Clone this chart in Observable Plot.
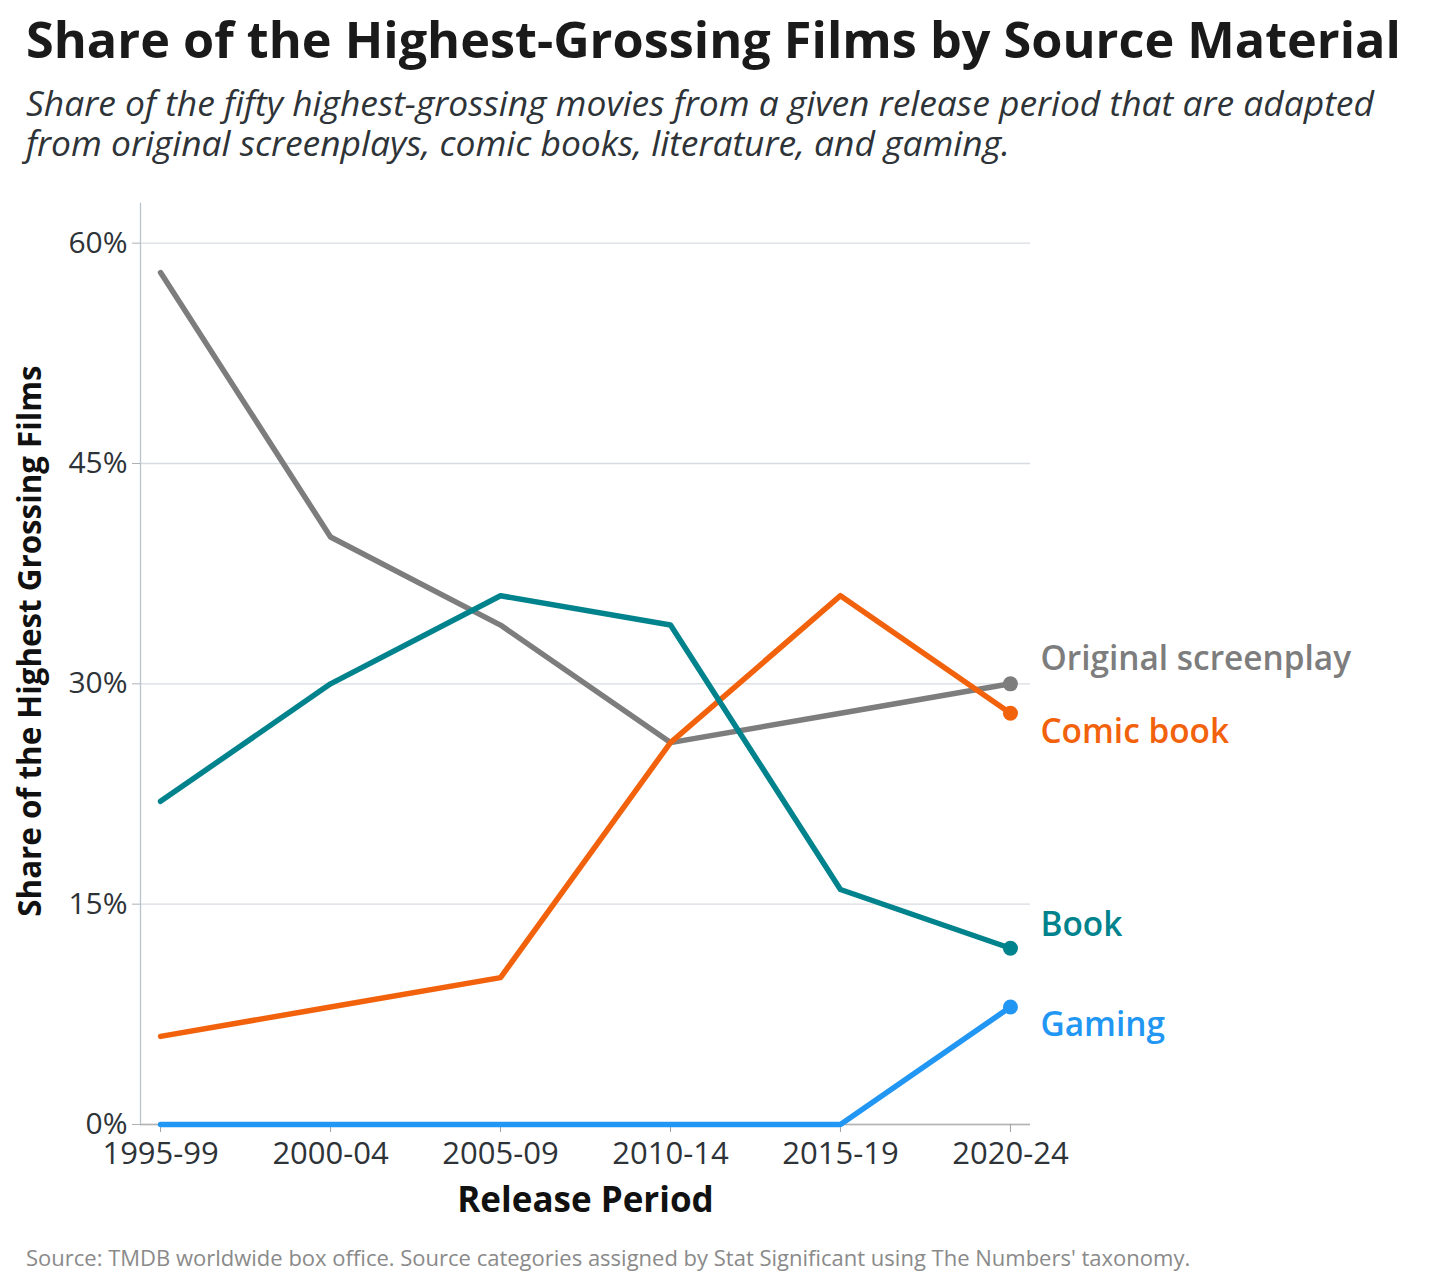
<!DOCTYPE html>
<html>
<head>
<meta charset="utf-8">
<script src="https://cdn.jsdelivr.net/npm/d3@7"></script>
<script src="https://cdn.jsdelivr.net/npm/@observablehq/plot@0.6"></script>
<style>
  body { margin: 0; background: #fff; font-family: "Open Sans", sans-serif; }
  #wrap { position: relative; width: 1456px; height: 1284px; overflow: hidden; }
  .title { position: absolute; left: 26px; top: 14px; font-size: 50.4px; font-weight: 700; color: #1a1a1a; line-height: 1; white-space: nowrap; }
  .subtitle { position: absolute; left: 26px; top: 82px; font-size: 35.4px; font-style: italic; color: #2e3338; line-height: 40px; width: 1430px; white-space: nowrap; }
  .caption { position: absolute; left: 26px; top: 1244px; font-size: 22px; color: #8a8a8a; line-height: 26px; white-space: nowrap; }
  #chart { position: absolute; left: 0; top: 190px; }
</style>
</head>
<body>
<div id="wrap">
  <div class="title">Share of the Highest-Grossing Films by Source Material</div>
  <div class="subtitle">Share of the fifty highest-grossing movies from a given release period that are adapted<br>from original screenplays, comic books, literature, and gaming.</div>
  <div id="chart"></div>
  <div class="caption">Source: TMDB worldwide box office. Source categories assigned by Stat Significant using The Numbers' taxonomy.</div>
</div>
<script>
const periods = ["1995-99", "2000-04", "2005-09", "2010-14", "2015-19", "2020-24"];
const seriesNames = ["Original screenplay", "Comic book", "Book", "Gaming"];
const originalScreenplay = [58, 40, 34, 26, 28, 30];
const comicBook = [6, 8, 10, 26, 36, 28];
const book = [22, 30, 36, 34, 16, 12];
const gaming = [0, 0, 0, 0, 0, 8];
const yTicks = [0, 15, 30, 45, 60];

const seriesValues = [originalScreenplay, comicBook, book, gaming];
const colors = ["#7d7d7d", "#f2620c", "#00838c", "#2196f3"];
const labelDy = [-25, 19, -23, 18];

const rows = [];
seriesNames.forEach((s, i) => {
  periods.forEach((p, j) => rows.push({series: s, period: p, value: seriesValues[i][j]}));
});
const last = rows.filter(d => d.period === periods[periods.length - 1]);

const chart = Plot.plot({
  width: 1456,
  height: 1050,
  marginLeft: 140,
  marginRight: 426,
  marginTop: 13,
  marginBottom: 116,
  style: {fontFamily: "Open Sans", background: "#fff", color: "#2e3338", overflow: "visible"},
  x: {type: "point", domain: periods, padding: 0.118, round: false},
  y: {domain: [0, 62.7]},
  color: {domain: seriesNames, range: colors},
  marks: [
    Plot.gridY(yTicks, {stroke: "#d7dbe0", strokeOpacity: 1, strokeWidth: 1.3}),
    Plot.frame({anchor: "left", stroke: "#b8c4cc", strokeWidth: 1.3}),
    Plot.ruleY([0], {stroke: "#b3b3b3", strokeWidth: 1.5}),
    Plot.axisY({ticks: yTicks, tickFormat: d => d + "%", tickSize: 8, tickPadding: 5, fontSize: 30, stroke: "#a9b2b8", label: null}),
    Plot.axisX({tickSize: 8, tickPadding: 9, fontSize: 31, stroke: "#a0a0a0", label: null}),
    Plot.line(rows, {x: "period", y: "value", z: "series", stroke: "series", strokeWidth: 5.5, strokeLinejoin: "round", strokeLinecap: "round"}),
    Plot.dot(last, {x: "period", y: "value", fill: "series", r: 7.5}),
    ...seriesNames.map((s, i) => Plot.text(last.filter(d => d.series === s), {
      x: "period", y: "value", text: "series", fill: colors[i], dx: 30, dy: labelDy[i],
      textAnchor: "start", fontSize: 33.4, fontWeight: 600
    })),
    Plot.text(["Release Period"], {frameAnchor: "bottom", dy: 87, fontSize: 35, fontWeight: 700, fill: "#111"}),
    Plot.text(["Share of the Highest Grossing Films"], {frameAnchor: "left", textAnchor: "middle", rotate: -90, dx: -110, dy: -23, fontSize: 31.3, fontWeight: 700, fill: "#111"})
  ]
});
document.getElementById("chart").appendChild(chart);
</script>
</body>
</html>
